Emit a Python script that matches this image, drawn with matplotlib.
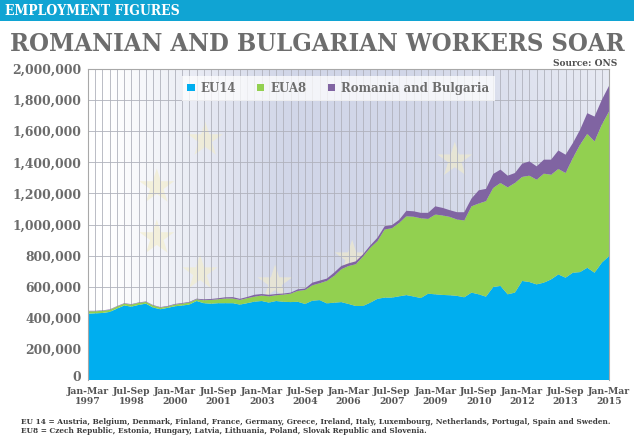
import matplotlib
matplotlib.use('Agg')
import matplotlib.pyplot as plt
from matplotlib.patches import Patch, Rectangle
from matplotlib import font_manager as fm
import matplotlib.ticker as ticker
import matplotlib.transforms as mtrans
import numpy as np

# quarterly figures, thousands of workers, Jan-Mar 1997 .. Jan-Mar 2015
eu14 = [427, 429, 431, 438, 459, 479, 472, 483, 491, 466,
        455, 464, 474, 479, 485, 508, 494, 491, 494, 494,
        494, 485, 494, 504, 508, 498, 508, 503, 501, 503,
        489, 510, 514, 493, 497, 501, 489, 476, 476, 497,
        522, 530, 530, 538, 546, 537, 527, 555, 551, 547,
        545, 541, 532, 562, 551, 536, 598, 605, 551, 562,
        637, 630, 615, 626, 647, 679, 658, 690, 694, 722,
        690, 754, 797]
eua8 = [15, 13, 14, 13, 13, 12, 13, 13, 11, 13,
        11, 8, 11, 12, 13, 11, 19, 24, 25, 30,
        30, 30, 32, 32, 35, 40, 37, 46, 54, 70,
        90, 99, 108, 144, 172, 211, 244, 268, 317, 353,
        371, 438, 446, 472, 507, 513, 513, 481, 513, 511,
        504, 491, 494, 555, 584, 614, 637, 662, 688, 705,
        669, 684, 673, 701, 673, 678, 673, 737, 819, 861,
        844, 887, 929]
rom_bul = [3, 3, 3, 3, 3, 3, 3, 3, 3, 3,
           3, 4, 4, 4, 4, 4, 6, 6, 7, 8,
           9, 7, 8, 12, 10, 10, 8, 7, 7, 10,
           9, 17, 17, 15, 21, 21, 17, 19, 15, 15,
           22, 21, 20, 20, 35, 35, 35, 39, 53, 49,
           43, 47, 53, 50, 85, 79, 90, 86, 75, 64,
           85, 92, 86, 90, 97, 119, 118, 96, 96, 133,
           160, 160, 165]

tick_labels = ['Jan-Mar\n1997', 'Jul-Sep\n1998', 'Jan-Mar\n2000', 'Jul-Sep\n2001',
               'Jan-Mar\n2003', 'Jul-Sep\n2004', 'Jan-Mar\n2006', 'Jul-Sep\n2007',
               'Jan-Mar\n2009', 'Jul-Sep\n2010', 'Jan-Mar\n2012', 'Jul-Sep\n2013',
               'Jan-Mar\n2015']
series_names = ['EU14', 'EUA8', 'Romania and Bulgaria']
colors = ['#00aeef', '#92d050', '#8064a2']

W, H = 634, 442
SERIF = 'DejaVu Serif'

# narrower slab-ish face for the headline if the condensed cut is installed
cond = [f.fname for f in fm.fontManager.ttflist
        if f.name == SERIF and f.stretch == 'condensed' and f.weight in ('bold', 700)
        and f.style == 'normal']
if cond:
    head_font = fm.FontProperties(fname=cond[0])
else:
    head_font = fm.FontProperties(family=SERIF, weight='bold')


def fit_width(fig, txt, width_px):
    r = fig.canvas.get_renderer()
    bb = txt.get_window_extent(renderer=r)
    txt.set_fontsize(txt.get_fontsize() * width_px / bb.width)


fig = plt.figure(figsize=(W / 100, H / 100), dpi=100)
fig.patch.set_facecolor('white')

# banner
fig.patches.append(Rectangle((0, 1 - 21 / H), 1, 21 / H, transform=fig.transFigure,
                             facecolor='#10a4d3', edgecolor='none', zorder=0))
banner = fig.text(5 / W, 1 - 11 / H, 'EMPLOYMENT FIGURES', color='white',
                  fontproperties=head_font, fontsize=10, va='center', ha='left')
fit_width(fig, banner, 175)

title = fig.text(0.5, 1 - 44 / H, 'ROMANIAN AND BULGARIAN WORKERS SOAR', color='#6d6d6d',
                 fontproperties=head_font, fontsize=20, va='center', ha='center')
fit_width(fig, title, 614)

fig.text(617 / W, 1 - 63 / H, 'Source: ONS', color='#505050', family=SERIF,
         weight='bold', fontsize=6.5, va='center', ha='right')

ax = fig.add_axes([88 / W, 1 - 380 / H, 521 / W, 311 / H])

# faded backdrop
xs = np.linspace(0, 1, 200)
ys = np.linspace(0, 1, 100)
gx, gy = np.meshgrid(xs, ys)
tint = np.array([0.82, 0.84, 0.91])
white = np.clip(1 - (gx - 0.04) / 0.34, 0, 1) + 0.5 * np.clip((gx - 0.6) / 0.4, 0, 1) * gy
white = np.clip(white, 0, 1)
img = white[..., None] * 1.0 + (1 - white[..., None]) * tint
ax.imshow(img, extent=[0, 1, 0, 1], transform=ax.transAxes, aspect='auto',
          origin='lower', zorder=0, interpolation='bilinear')

star_x = [0.132, 0.132, 0.215, 0.359, 0.507, 0.704, 0.225]
star_y = [0.621, 0.457, 0.344, 0.312, 0.392, 0.707, 0.772]
ax.scatter(star_x, star_y, marker='*', s=700, color='#f3edc8', alpha=0.6,
           edgecolors='none', transform=ax.transAxes, zorder=0.5)

x = np.arange(len(eu14))
vals = [np.array(eu14) * 1000, np.array(eua8) * 1000, np.array(rom_bul) * 1000]
ax.stackplot(x, *vals, colors=colors, labels=series_names, zorder=2, linewidth=0)

ax.set_xlim(0, len(eu14) - 1)
ax.set_ylim(0, 2000000)
ax.set_xticks(x[::6])
ax.set_xticklabels(tick_labels)
ax.set_xticks(x, minor=True)
ax.set_yticks(np.arange(0, 2000001, 200000))
ax.yaxis.set_major_formatter(ticker.FuncFormatter(lambda v, p: '{:,.0f}'.format(v)))

ax.grid(which='both', axis='x', color='#b0b2bc', linewidth=0.6, zorder=1)
ax.grid(which='major', axis='y', color='#b0b2bc', linewidth=0.6, zorder=1)
ax.set_axisbelow(True)
ax.tick_params(which='both', length=0)
ax.tick_params(axis='y', pad=5, labelsize=8.9, labelcolor='#6b6b6b')
ax.tick_params(axis='x', pad=5, labelsize=6.7, labelcolor='#555555')
for lab in ax.get_xticklabels() + ax.get_yticklabels():
    lab.set_family(SERIF)
    lab.set_weight('bold')
for lab in ax.get_xticklabels():
    lab.set_linespacing(1.2)
# lift the "0" a little so it sits clear of the first date label
zero = ax.get_yticklabels()[0]
zero.set_transform(zero.get_transform() + mtrans.ScaledTranslation(0, 3 / 72, fig.dpi_scale_trans))

for s in ['top', 'right', 'left']:
    ax.spines[s].set_color('#a8a8a8')
    ax.spines[s].set_linewidth(0.8)
ax.spines['bottom'].set_visible(False)

handles = [Patch(facecolor=c, edgecolor='none', label=n) for c, n in zip(colors, series_names)]
leg = ax.legend(handles=handles, loc='upper center', bbox_to_anchor=(0.48, 0.997), ncol=3,
                frameon=True, fancybox=False, handlelength=0.6, handleheight=0.6,
                handletextpad=0.5, columnspacing=1.8, borderpad=0.5,
                prop={'family': SERIF, 'weight': 'bold', 'size': 8.5})
leg.get_frame().set_facecolor('white')
leg.get_frame().set_alpha(0.75)
leg.get_frame().set_edgecolor('none')
for t in leg.get_texts():
    t.set_color('#6d6d6d')
leg.set_zorder(5)

foot1 = fig.text(21 / W, 1 - 422 / H,
                 'EU 14 = Austria, Belgium, Denmark, Finland, France, Germany, Greece, Ireland, '
                 'Italy, Luxembourg, Netherlands, Portugal, Spain and Sweden.',
                 color='#3c3c3c', family=SERIF, weight='bold', fontsize=5, va='center', ha='left')
fit_width(fig, foot1, 598)
fig.text(21 / W, 1 - 431 / H,
         'EU8 = Czech Republic, Estonia, Hungary, Latvia, Lithuania, Poland, Slovak Republic '
         'and Slovenia.', color='#3c3c3c', family=SERIF, weight='bold',
         fontsize=foot1.get_fontsize(), va='center', ha='left')

plt.savefig('out.png', dpi=100)
plt.close()
